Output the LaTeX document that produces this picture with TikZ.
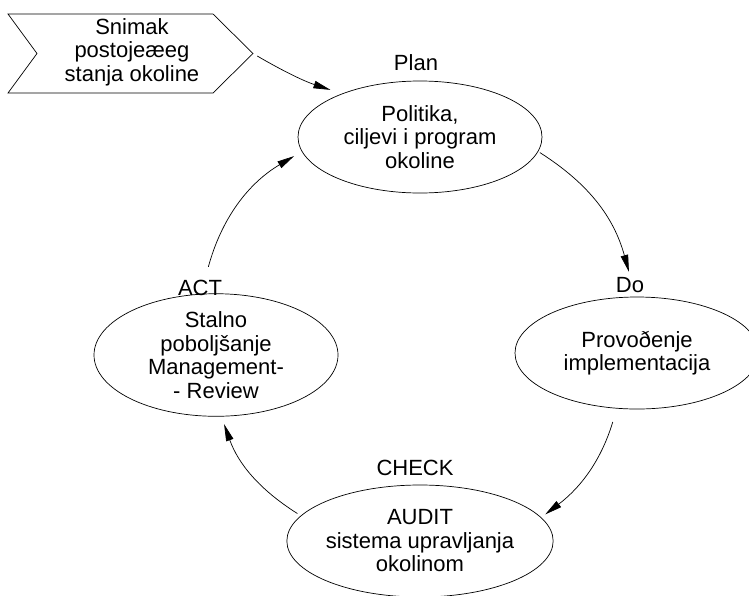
\documentclass[tikz,border=0pt]{standalone}
\usepackage{fontspec}
\setmainfont{Liberation Sans}
\usetikzlibrary{shapes.geometric,arrows.meta}
\newcommand{\stagefont}{\fontsize{22}{23.5}\selectfont}
\tikzset{
  stage/.style={ellipse, draw, line width=0.7pt, minimum width=244pt, minimum height=112pt, inner sep=0pt, align=center, font=\stagefont},
  tag/.style={font=\stagefont, inner sep=1pt, anchor=base},
  chev/.style={draw, line width=0.7pt},
  cyc/.style={-{Triangle[length=17pt,width=7.5pt]}, line width=0.7pt}
}
\begin{document}
\begin{tikzpicture}[x=1pt,y=-1pt]
  \useasboundingbox (0,0) rectangle (749,595);

  % input arrow box
  \draw[chev] (8,14) -- (213,14) -- (253,53.5) -- (213,93) -- (8,93) -- (37,53.5) -- cycle;
  \coordinate (snapTip) at (253,53.5);
  \node[font=\stagefont, align=center] (snap) at (132,52) {Snimak\\postoje\ae eg\\stanja okoline};

  % the four stages
  \node[stage] (plan) at (420,137) {Politika,\\ciljevi i program\\okoline};
  \node[stage] (do) at (637,353) {Provoðenje\\implementacija};
  \node[stage] (act) at (216,355) {Stalno\\poboljšanje\\Management-\\- Review};
  \node[stage] (audit) at (420,541) {AUDIT\\sistema upravljanja\\okolinom};

  % stage names
  \node[tag] (planlab) at (416,70) {Plan};
  \node[tag] (dolab) at (630,292) {Do};
  \node[tag] (actlab) at (200,295) {ACT};
  \node[tag] (checklab) at (415,475) {CHECK};

  % cycle
  \draw[cyc, shorten <=5pt, shorten >=12pt] (snapTip) to[bend right=6] (plan.151);
  \draw[cyc, shorten <=2pt, shorten >=4pt] (plan.-7) to[bend left=21] (dolab.north);
  \draw[cyc, shorten <=14pt, shorten >=5pt] (do.-110) to[bend left=18] (audit.11);
  \draw[cyc, shorten <=4pt, shorten >=8pt] (audit.168) to[bend left=19] (act.-85);
  \draw[cyc, shorten <=12pt, shorten >=9pt] (actlab.60) to[bend left=22] (plan.187);
\end{tikzpicture}
\end{document}
